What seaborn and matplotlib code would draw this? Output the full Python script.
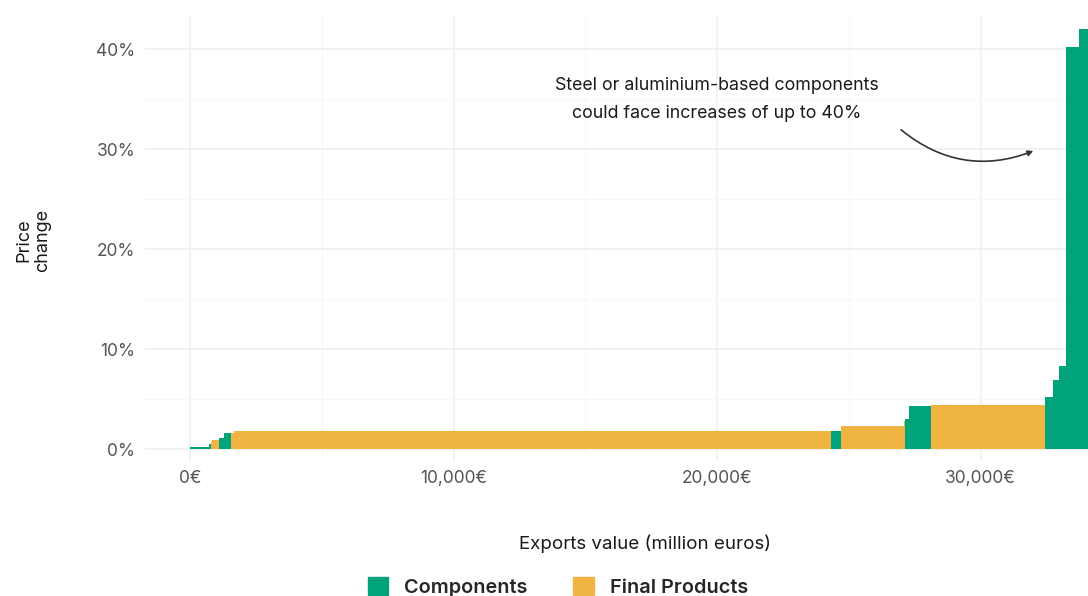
import pandas as pd
import numpy as np
import seaborn as sns
import matplotlib.pyplot as plt
from matplotlib.patches import Patch
from matplotlib.ticker import MultipleLocator, FuncFormatter

# exports value of each product group (million euros), in plotting order
export_value = [721, 76, 38, 265, 190, 266, 114, 22660, 360, 2410, 30,
                160, 830, 4330, 300, 230, 260, 500, 340]
# expected price change (%)
price_change = [0.2, 0.5, 0.7, 0.9, 1.1, 1.6, 1.6, 1.8, 1.8, 2.3, 2.8,
                3.0, 4.3, 4.4, 5.2, 6.9, 8.3, 40.2, 42.0]
product_type = ['Components', 'Components', 'Final Products', 'Final Products',
                'Components', 'Components', 'Final Products', 'Final Products',
                'Components', 'Final Products', 'Final Products', 'Components',
                'Components', 'Final Products', 'Components', 'Components',
                'Components', 'Components', 'Components']

colors = {'Components': '#00A37A', 'Final Products': '#F0B443'}

edges = np.concatenate([[0], np.cumsum(export_value)])
df = pd.DataFrame({'mid': (edges[:-1] + edges[1:]) / 2,
                   'change': price_change,
                   'type': product_type})

sns.set_style("white")
plt.rcParams['font.family'] = ['Inter', 'DejaVu Sans']

fig = plt.figure(figsize=(10.88, 5.96), dpi=100)
# panel runs past the right edge (the original is cropped there)
ax = fig.add_axes([145 / 1088, 1 - 460 / 596, 1000 / 1088, 445 / 596])

sns.histplot(data=df, x='mid', weights='change', hue='type',
             bins=[float(e) for e in edges],
             multiple='layer', palette=colors, alpha=1, linewidth=0,
             legend=False, ax=ax)

ax.set_xlim(-1708, 36240)
ax.set_ylim(-1.1, 43.4)

ax.xaxis.set_major_locator(MultipleLocator(10000))
ax.xaxis.set_minor_locator(MultipleLocator(5000))
ax.yaxis.set_major_locator(MultipleLocator(10))
ax.yaxis.set_minor_locator(MultipleLocator(5))
ax.xaxis.set_major_formatter(FuncFormatter(lambda v, p: f"{v:,.0f}€"))
ax.yaxis.set_major_formatter(FuncFormatter(lambda v, p: f"{v:.0f}%"))

ax.grid(which='major', color='#efefef', linewidth=1.1)
ax.grid(which='minor', color='#f6f6f6', linewidth=0.6)
ax.set_axisbelow(True)
for s in ax.spines.values():
    s.set_visible(False)

ax.tick_params(which='major', length=4, width=1.1, color='#333333',
               labelcolor='#555555', labelsize=12.5, pad=3)
ax.tick_params(which='minor', length=0)

ax.set_xlabel("Exports value (million euros)", fontsize=13.5, color='#1a1a1a',
              labelpad=34.5)
ax.set_ylabel("")
fig.text(33 / 1088, 1 - 240 / 596, "Price\nchange", rotation=90, ha='center',
         va='center', fontsize=13, color='#1a1a1a', linespacing=1.1)

ax.text(20000, 34.95, "Steel or aluminium-based components\ncould face increases of up to 40%",
        ha='center', va='center', fontsize=12.8, color='#1a1a1a', linespacing=1.85)
ax.annotate("", xy=(32100, 29.9), xytext=(26900, 32.1),
            arrowprops=dict(arrowstyle='-|>', color='#333333', lw=1.2,
                            mutation_scale=8,
                            connectionstyle='arc3,rad=0.3'))

handles = [Patch(color=colors[k], label=k) for k in colors]
leg = fig.legend(handles=handles, loc='center', ncol=2,
                 bbox_to_anchor=(558 / 1088, 1 - 587 / 596), frameon=False,
                 handlelength=1.05, handleheight=1.05, columnspacing=2.3,
                 handletextpad=0.8,
                 prop={'weight': 'semibold', 'size': 14.3})

fig.savefig("out.png", dpi=100)
